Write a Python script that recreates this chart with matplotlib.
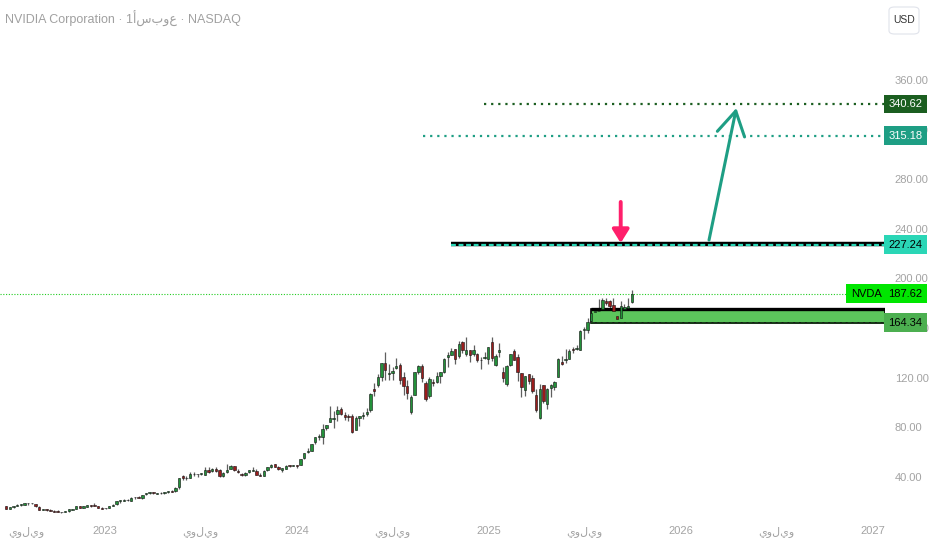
import numpy as np
import pandas as pd
import matplotlib
matplotlib.use('Agg')
import matplotlib.pyplot as plt
import matplotlib.dates as mdates
import matplotlib.transforms as mtransforms
from matplotlib.patches import Rectangle, FancyArrowPatch, FancyBboxPatch

plt.rcParams['font.family'] = ['Liberation Sans', 'DejaVu Sans']

#%% Datos semanales NVDA (O, H, L, C), desde 2022-06-27
opens = [
    # 2022
    16.5, 14.4, 15.6, 16.4, 17.2, 17.8, 18.7, 18.9, 18.4, 16.2, 13.7, 14.5, 13.0, 12.3,
    12.3, 11.8, 11.9, 12.6, 13.6, 14.3, 16.3, 15.4, 16.0, 17.0, 17.2, 16.4, 15.1,
    # 2023
    14.8, 15.2, 17.0, 17.9, 20.3, 20.9, 21.8, 21.0, 23.6, 24.0, 22.8, 25.9, 26.8, 27.9,
    26.6, 26.8, 26.9, 27.8, 28.5, 28.4, 31.6, 40.5, 39.5, 39.3, 42.4, 42.4, 42.5, 42.0,
    46.0, 44.6, 46.7, 45.6, 40.4, 44.4, 46.5, 48.5, 45.0, 42.8, 41.5, 44.0, 45.2, 44.6,
    41.8, 41.0, 45.7, 48.2, 50.1, 48.2, 45.6, 46.6, 49.4, 48.9,
    # 2024
    49.2, 49.6, 55.0, 59.8, 61.2, 68.2, 72.6, 71.9, 79.7, 84.2, 86.4, 90.4, 95.0, 90.3,
    88.8, 89.0, 78.1, 87.5, 89.3, 90.5, 93.9, 111.1, 114.0, 120.4, 132.0, 123.2, 123.5,
    128.0, 130.6, 120.4, 113.7, 92.1, 106.3, 124.3, 129.6, 116.0, 104.9, 116.8, 116.6,
    121.7, 124.9, 136.5, 138.1, 143.0, 137.2, 148.7, 139.5, 142.0, 138.8, 138.9, 134.2, 136.3,
    # 2025
    134.8, 148.6, 129.9, 140.8, 124.8, 114.8, 130.1, 141.3, 136.6, 123.5, 109.9, 122.7,
    119.9, 105.8, 87.5, 114.1, 98.8, 111.4, 112.9, 121.0, 132.4, 134.2, 135.5, 142.8,
    143.4, 142.5, 158.4, 158.6, 165.4, 172.8, 174.0, 175.2, 182.1, 181.9, 178.4, 170.0,
    168.0, 175.7, 176.0, 181.2,
]
highs = [
    16.8, 16.0, 16.6, 17.9, 18.3, 19.3, 19.2, 19.3, 18.6, 16.5, 14.4, 14.6, 13.8, 13.2,
    13.4, 12.1, 12.6, 13.9, 14.2, 16.4, 16.8, 16.5, 17.3, 17.6, 18.8, 16.6, 15.6,
    15.0, 17.0, 18.0, 20.4, 21.6, 22.5, 22.3, 23.9, 24.0, 24.6, 25.8, 27.2, 27.9, 28.1,
    27.0, 28.0, 28.0, 28.9, 29.2, 31.9, 39.5, 41.9, 40.9, 43.9, 43.9, 42.7, 42.9, 48.0,
    48.0, 47.4, 47.7, 46.4, 44.3, 50.2, 49.4, 48.8, 46.3, 43.6, 43.9, 45.9, 47.7, 46.4,
    43.3, 45.3, 48.3, 50.5, 50.5, 48.9, 47.6, 49.4, 50.0, 49.9,
    49.5, 54.7, 59.5, 63.4, 66.2, 72.1, 74.6, 82.4, 82.3, 97.4, 92.8, 96.9, 96.8, 92.2,
    90.7, 90.6, 88.8, 88.8, 92.1, 95.9, 107.4, 115.8, 123.0, 132.0, 140.8, 131.4, 128.9,
    136.2, 131.9, 124.7, 118.3, 106.0, 125.0, 130.0, 131.3, 117.2, 120.2, 118.6, 124.9,
    125.0, 135.8, 140.9, 144.1, 143.1, 149.8, 149.7, 152.9, 142.1, 146.5, 139.6, 136.7, 141.1,
    144.9, 153.1, 138.8, 148.0, 129.0, 130.4, 139.3, 143.4, 139.0, 123.7, 121.8, 122.9,
    122.0, 111.0, 115.1, 114.3, 111.9, 114.9, 117.7, 136.0, 137.4, 143.5, 142.8, 145.0,
    146.2, 158.7, 161.0, 167.9, 174.3, 174.7, 183.3, 183.9, 184.5, 183.0, 184.5, 172.3,
    181.9, 179.2, 184.6, 191.0,
]
lows = [
    14.0, 14.1, 14.9, 16.3, 16.6, 17.6, 17.3, 18.3, 16.2, 13.6, 13.3, 12.8, 12.4, 11.9,
    12.0, 10.8, 11.7, 12.0, 13.0, 13.8, 15.2, 15.2, 15.6, 16.0, 16.5, 15.0, 14.1,
    14.0, 15.1, 16.5, 17.8, 19.3, 20.6, 21.0, 20.6, 22.6, 22.7, 22.4, 25.2, 26.0, 26.5,
    26.0, 26.5, 26.2, 27.2, 28.0, 28.2, 30.1, 37.3, 37.3, 39.2, 41.0, 39.9, 41.3, 41.5,
    43.2, 44.4, 44.1, 40.3, 40.3, 43.0, 46.3, 44.7, 43.1, 40.9, 40.9, 43.5, 44.6, 41.3,
    40.4, 40.8, 45.0, 47.5, 47.7, 45.6, 44.3, 46.1, 47.7, 48.7,
    47.3, 49.5, 54.5, 59.0, 60.8, 66.2, 70.1, 66.2, 77.7, 84.0, 79.4, 85.1, 89.9, 85.9,
    85.1, 75.6, 78.0, 81.2, 87.0, 89.1, 92.2, 104.9, 112.7, 117.0, 118.0, 118.0, 118.0,
    127.0, 115.0, 106.3, 102.5, 90.7, 106.0, 123.4, 116.7, 100.9, 104.0, 113.5, 115.7,
    116.0, 124.2, 128.7, 138.0, 131.3, 135.6, 140.1, 137.2, 132.8, 137.5, 132.4, 126.8, 135.2,
    130.7, 133.5, 129.5, 137.1, 116.3, 113.0, 129.1, 134.0, 117.5, 104.8, 105.5, 115.0,
    107.5, 92.1, 86.6, 100.0, 95.0, 104.8, 110.1, 120.3, 130.6, 131.6, 135.4, 140.0,
    142.0, 142.0, 151.0, 155.9, 163.9, 168.9, 171.4, 174.4, 179.0, 168.8, 173.4, 164.1,
    168.0, 167.3, 172.3, 180.3,
]
closes = [
    14.5, 15.9, 16.5, 17.3, 18.2, 19.1, 19.0, 18.7, 16.3, 13.7, 14.3, 13.1, 12.5, 12.1,
    12.1, 11.6, 12.5, 13.8, 14.2, 16.3, 15.4, 16.3, 17.2, 16.9, 16.6, 15.2, 14.6,
    14.9, 16.9, 17.8, 20.4, 21.1, 21.6, 21.4, 23.3, 23.9, 23.0, 25.7, 26.8, 27.8, 27.0,
    26.7, 27.1, 27.7, 28.7, 28.3, 31.3, 39.0, 39.3, 38.8, 42.7, 42.2, 42.3, 42.5, 45.5,
    44.3, 46.8, 44.7, 40.9, 43.3, 46.0, 48.5, 45.6, 43.9, 41.6, 43.5, 45.8, 45.5, 41.4,
    40.5, 45.0, 48.3, 49.3, 47.8, 46.8, 47.5, 48.9, 48.8, 49.5,
    49.1, 54.7, 59.5, 61.0, 66.2, 72.1, 72.6, 78.8, 82.3, 87.5, 87.8, 94.3, 90.4, 88.0,
    88.2, 76.2, 87.7, 88.8, 89.9, 92.5, 106.5, 109.6, 120.9, 131.9, 126.6, 123.5, 125.8,
    129.2, 117.9, 113.1, 107.3, 104.8, 124.6, 129.4, 119.4, 102.8, 119.1, 116.0, 121.4,
    124.9, 134.8, 138.0, 141.5, 135.4, 147.6, 142.0, 142.0, 138.3, 142.4, 134.3, 134.7, 137.0,
    144.5, 135.9, 137.7, 142.6, 120.1, 129.8, 138.9, 134.4, 124.9, 112.7, 121.7, 117.7,
    109.7, 94.3, 110.9, 101.5, 111.0, 114.5, 116.7, 135.4, 131.3, 135.1, 141.7, 142.0,
    143.9, 157.8, 159.3, 164.9, 172.4, 173.5, 173.7, 182.7, 180.5, 178.0, 174.2, 167.0,
    177.8, 176.7, 178.2, 187.62,
]

# niveles dibujados
nivel_objetivo = 340.62
nivel_medio = 315.18
nivel_resist = 227.24
ultimo = 187.62
zona_baja = 164.34
zona_alta = 175.5

precios_eje = [40, 80, 120, 160, 200, 240, 280, 320, 360]
meses_eje = ['2022-07-01', '2023-01-01', '2023-07-01', '2024-01-01', '2024-07-01',
             '2025-01-01', '2025-07-01', '2026-01-01', '2026-07-01', '2027-01-01']
etiquetas_eje = ['يوليو', '2023', 'يوليو', '2024', 'يوليو', '2025', 'يوليو', '2026', 'يوليو', '2027']

#%% Figura
fechas = pd.date_range('2022-06-27', periods=len(closes), freq='7D')
o = np.array(opens); h = np.array(highs); l = np.array(lows); c = np.array(closes)
assert len(o) == len(h) == len(l) == len(c)

fig = plt.figure(figsize=(9.32, 5.5), dpi=100)
ax = fig.add_axes([0, 35/550, 885/932, 515/550])

px_dia = 0.5257
x_2023 = mdates.date2num(pd.Timestamp('2023-01-01'))
x_izq = x_2023 - 105/px_dia
x_der = x_izq + 885/px_dia
ax.set_xlim(x_izq, x_der)
ax.set_ylim(360 - 435/1.2406, 360 + 80/1.2406)

xs = mdates.date2num(fechas)
sube = c >= o
colores = np.where(sube, '#23913a', '#9b1c1c')
ax.vlines(xs, l, h, color='#5f5f5f', lw=0.9, zorder=2)
ax.bar(xs, np.maximum(np.abs(c - o), 0.35), bottom=np.minimum(o, c), width=4.6,
       color=colores, edgecolor='#111111', linewidth=0.4, zorder=3)

def fecha(s):
    return mdates.date2num(pd.Timestamp(s))

# lineas de nivel
ax.hlines(nivel_objetivo, fecha('2024-12-22'), x_der, colors='#1b5e20', lw=1.6,
          linestyles=(0, (1, 2.2)), zorder=2)
ax.hlines(nivel_medio, fecha('2024-08-27'), x_der, colors='#1e9e84', lw=1.6,
          linestyles=(0, (1, 2.2)), zorder=2)
ax.hlines(nivel_resist + 0.9, fecha('2024-10-21'), x_der, colors='black', lw=3.2, zorder=2)
ax.hlines(nivel_resist - 0.5, fecha('2024-10-21'), x_der, colors='#2ad6b6', lw=1.6,
          linestyles=(0, (2.2, 1.2)), zorder=3)
ax.hlines(ultimo, x_izq, x_der, colors='#22cc22', lw=0.8, linestyles=(0, (1, 1.5)), zorder=1)

# zona
x_zona = fecha('2025-07-14')
ax.add_patch(Rectangle((x_zona, zona_baja), x_der - x_zona, zona_alta - zona_baja,
                       facecolor='#5cc55c', edgecolor='black', lw=1.2, zorder=2.5))
ax.hlines(zona_alta, x_zona, x_der, colors='black', lw=2.4, zorder=2.6)
ax.hlines(zona_baja, x_zona, x_der, colors='#1a3a1a', lw=1.4, linestyles=(0, (2, 1)), zorder=2.6)

# flechas
x_rosa = fecha('2025-09-08')
ax.add_patch(FancyArrowPatch((x_rosa, 261.7), (x_rosa, 228.6),
                             arrowstyle='-|>,head_length=0.4,head_width=0.25',
                             mutation_scale=20, color='#ff1f6b', lw=2.8, zorder=5,
                             shrinkA=0, shrinkB=0))
ax.add_patch(FancyArrowPatch((fecha('2026-02-23'), 231.0), (fecha('2026-04-16'), 337.4),
                             arrowstyle='->,head_length=0.85,head_width=0.5',
                             mutation_scale=20, color='#1e9e84', lw=2.2, zorder=5,
                             shrinkA=0, shrinkB=0))

# ejes
for sp in ax.spines.values():
    sp.set_visible(False)
ax.yaxis.tick_right()
ax.set_yticks(precios_eje)
ax.set_yticklabels([f'{p:.2f}' for p in precios_eje])
ax.set_xticks([fecha(m) for m in meses_eje])
ax.set_xticklabels(etiquetas_eje)
ax.tick_params(axis='y', length=0, pad=7, labelcolor='#a3a3a3', labelsize=8)
ax.tick_params(axis='x', length=0, pad=8, labelcolor='#a3a3a3', labelsize=8)
ax.get_xticklabels()[0].set_horizontalalignment('left')
ax.get_xticklabels()[0].set_x(fecha('2022-06-16'))

# etiquetas de precio
trans = mtransforms.blended_transform_factory(ax.transAxes, ax.transData)
etiquetas = [(nivel_objetivo, '#1b5e20', 'white'),
             (nivel_medio, '#1e9e84', 'white'),
             (nivel_resist, '#2ad6b6', 'black'),
             (ultimo, '#00e600', 'black'),
             (zona_baja, '#4caf50', 'black')]
for precio, fondo, letra in etiquetas:
    ax.text(1.004, precio, f'{precio:.2f}', transform=trans, ha='left', va='center',
            fontsize=8, color=letra, clip_on=False, zorder=10,
            bbox=dict(boxstyle='square,pad=0.4', fc=fondo, ec='none'))
ax.text(0.996, ultimo, 'NVDA', transform=trans, ha='right', va='center', fontsize=8,
        color='black', clip_on=False, zorder=10,
        bbox=dict(boxstyle='square,pad=0.4', fc='#00e600', ec='none'))

# titulo y moneda
fig.text(5/932, 1 - 19/550, 'NVIDIA Corporation · 1أسبوع · NASDAQ', fontsize=9,
         color='#a0a0a0', ha='left', va='center')
fig.patches.append(FancyBboxPatch((889/932, 1 - 34/550), 30/932, 27/550,
                                  boxstyle='round,pad=0,rounding_size=0.006',
                                  transform=fig.transFigure, fc='white', ec='#e0e3eb', lw=0.8))
fig.text(904/932, 1 - 20/550, 'USD', fontsize=7.5, color='#333333', ha='center', va='center')

fig.savefig('out.png', dpi=100)
